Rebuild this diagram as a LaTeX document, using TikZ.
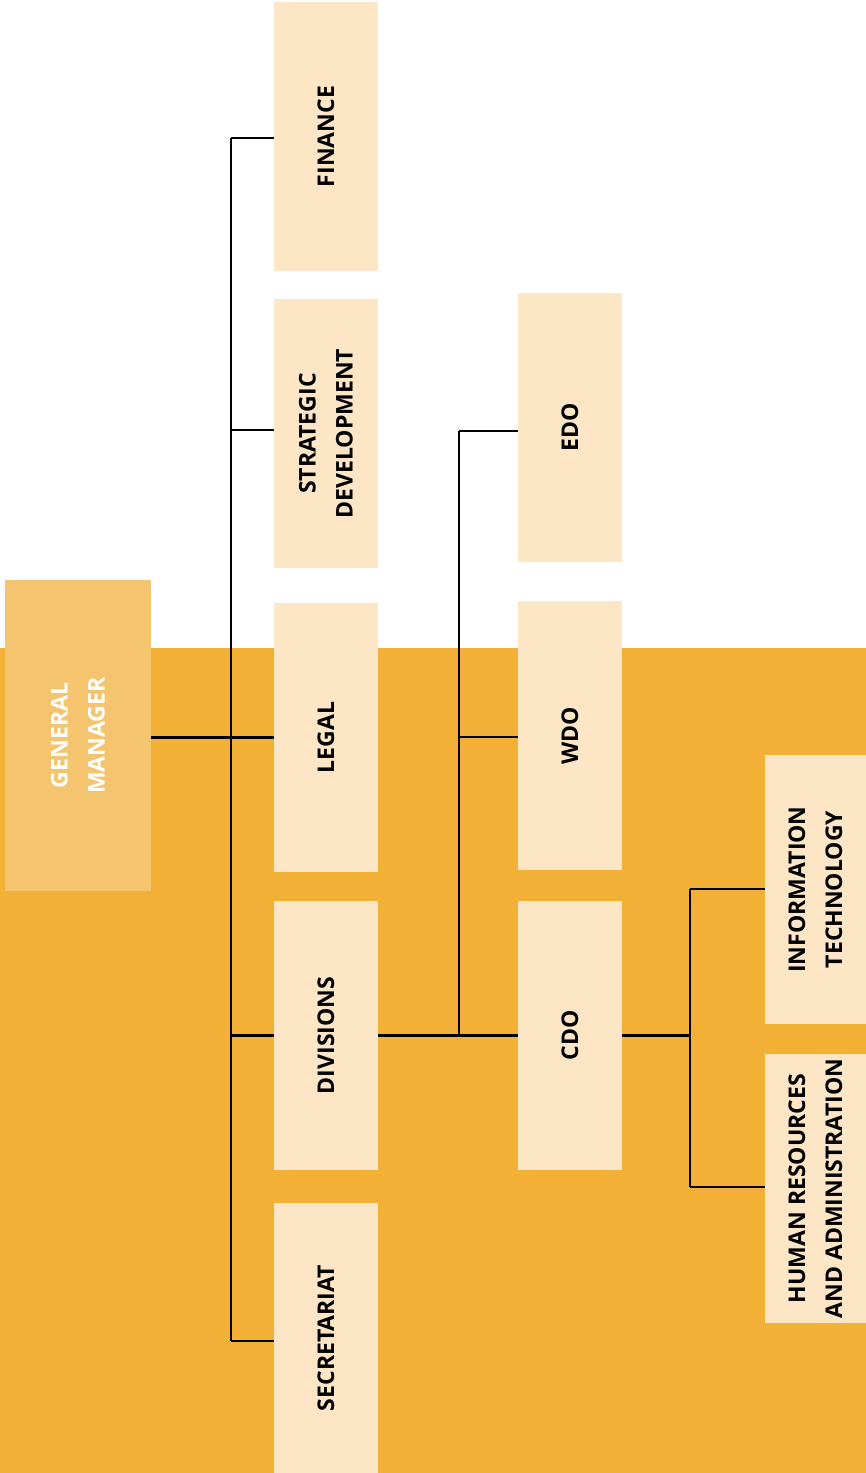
\documentclass[tikz,border=0pt]{standalone}
\usepackage{fontspec}
\setmainfont{Open Sans}
\definecolor{bgor}{HTML}{F2B136}
\definecolor{gmfill}{HTML}{F5C46E}
\definecolor{boxfill}{HTML}{FDE6C5}
\begin{document}
\begin{tikzpicture}[x=1pt,y=-1pt,
  box/.style={fill=boxfill,draw=none,inner sep=0pt,minimum width=104pt,minimum height=269pt},
  lbl/.style={rotate=90,align=center,font=\fontsize{23}{37}\selectfont\bfseries,text=black},
  conn/.style={line width=2.6pt,black}]
\useasboundingbox (0,0) rectangle (866,1473);
\fill[white] (0,0) rectangle (866,1473);
\fill[bgor] (0,648) rectangle (866,1473);
% general manager
\node[fill=gmfill,inner sep=0pt,minimum width=146pt,minimum height=311pt,
  label={[lbl,text=white]center:GENERAL\\MANAGER}] (gm) at (78,735.5) {};
% column 1
\node[box,label={[lbl]center:FINANCE}] (fin) at (326,136.5) {};
\node[box,label={[lbl]center:STRATEGIC\\DEVELOPMENT}] (sd) at (326,433.5) {};
\node[box,label={[lbl]center:LEGAL}] (leg) at (326,737.5) {};
\node[box,label={[lbl]center:DIVISIONS}] (div) at (326,1035.5) {};
\node[box,minimum height=270pt,label={[lbl]center:SECRETARIAT}] (sec) at (326,1338) {};
% column 2
\node[box,label={[lbl]center:EDO}] (edo) at (570,427.5) {};
\node[box,label={[lbl]center:WDO}] (wdo) at (570,735.5) {};
\node[box,label={[lbl]center:CDO}] (cdo) at (570,1035.5) {};
% column 3
\node[box,minimum width=101pt,label={[lbl]center:INFORMATION\\TECHNOLOGY}] (it) at (815.5,889.5) {};
\node[box,minimum width=101pt,label={[lbl]center:HUMAN RESOURCES\\AND ADMINISTRATION}] (hr) at (815.5,1188.5) {};
% coordinates
\coordinate (t1) at (231,138);
\coordinate (t2) at (231,1341);
\coordinate (d1) at (459,431);
\coordinate (d2) at (459,1035.5);
\coordinate (c1) at (690,889);
\coordinate (c2) at (690,1187);
% connectors
\draw[conn] (t1) -- (t2);
\draw[conn] (t1) -- (t1 -| fin.west);
\draw[conn] (231,430) -- (231,430 -| sd.west);
\draw[conn] (gm.east |- leg.west) -- (leg.west);
\draw[conn] (231,1035.5) -- (div.west);
\draw[conn] (t2) -- (t2 -| sec.west);
\draw[conn] (div.east) -- (cdo.west);
\draw[conn] (d1) -- (d2);
\draw[conn] (d1) -- (d1 -| edo.west);
\draw[conn] (459,737) -- (459,737 -| wdo.west);
\draw[conn] (cdo.east) -- (690,1035.5);
\draw[conn] (c1) -- (c2);
\draw[conn] (c1) -- (c1 -| it.west);
\draw[conn] (c2) -- (c2 -| hr.west);
\end{tikzpicture}
\end{document}
